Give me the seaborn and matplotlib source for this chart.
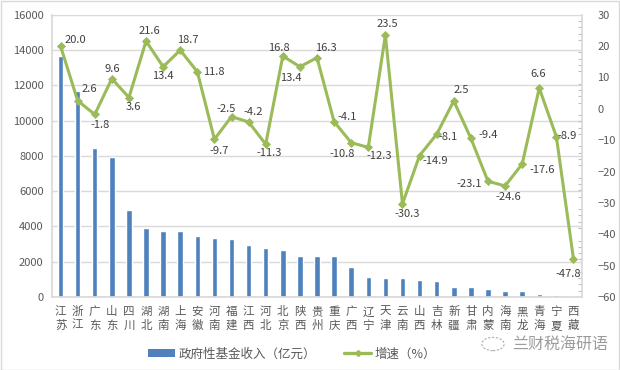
import matplotlib
matplotlib.use("Agg")
import matplotlib.pyplot as plt
import seaborn as sns
import numpy as np
import pandas as pd
from matplotlib.patches import Patch, Rectangle, Circle
from matplotlib.lines import Line2D
from matplotlib.ticker import MultipleLocator

provinces = ["江苏", "浙江", "广东", "山东", "四川", "湖北", "湖南", "上海", "安徽", "河南",
             "福建", "江西", "河北", "北京", "陕西", "贵州", "重庆", "广西", "辽宁", "天津",
             "云南", "山西", "吉林", "新疆", "甘肃", "内蒙", "海南", "黑龙", "青海", "宁夏", "西藏"]
revenue = [13650, 11690, 8470, 7950, 4940, 3920, 3750, 3750, 3470, 3350,
           3290, 2950, 2780, 2670, 2330, 2330, 2330, 1720, 1150, 1080,
           1080, 965, 910, 585, 585, 455, 340, 340, 190, 130, 30]
growth = [20.0, 2.6, -1.8, 9.6, 3.6, 21.6, 13.4, 18.7, 11.8, -9.7,
          -2.5, -4.2, -11.3, 16.8, 13.4, 16.3, -4.1, -10.8, -12.3, 23.5,
          -30.3, -14.9, -8.1, 2.5, -9.4, -23.1, -24.6, -17.6, 6.6, -8.9, -47.8]
bar_name = "政府性基金收入（亿元）"
line_name = "增速（%）"

# label placement (screen pixel offsets of label centre from the point)
label_dx = [15, 12, 5, 0, 4, 3, 0, 8, 17, 5, -5, 5, 3, -4, -9, 9, 13, -9, 11, 2,
            5, 16, 11, 8, 17, -19, 3, 20, -1, 11, -5]
label_dy = [-6, -12, 11, -10, 9, -10, 9, -10, 0, 12, -8, -10, 9, -8, 11, -10, -5, 11, 9, -11,
            10, 5, 3, -11, -3, 3, 11, 6, -14, -1, 15]

sns.set_theme(style="white")
plt.rcParams['font.family'] = ['Noto Sans CJK SC', 'DejaVu Sans']

W, H = 620, 370
fig = plt.figure(figsize=(W / 100, H / 100), dpi=100)
ax = fig.add_axes([52 / W, (H - 297) / H, 530 / W, (297 - 14.7) / H])

BLUE = "#4F81BD"
GREEN = "#9BBB59"
TXT = "#595959"
GRID = "#D9D9D9"

df = pd.DataFrame({"province": provinces, "revenue": revenue, "growth": growth})
sns.barplot(data=df, x="province", y="revenue", ax=ax, color=BLUE, width=0.32,
            saturation=1, zorder=2)
ax.set_ylim(0, 16000)
ax.yaxis.set_major_locator(MultipleLocator(2000))
ax.grid(axis="y", color=GRID, lw=1, zorder=0)
ax.set_axisbelow(True)
ax.set_xlabel("")
ax.set_ylabel("")

ax2 = ax.twinx()
sns.pointplot(data=df, x="province", y="growth", ax=ax2, color=GREEN,
              markers="D", markersize=3, linewidth=2.2, zorder=5)
ax2.set_ylim(-60, 30)
ax2.yaxis.set_major_locator(MultipleLocator(10))
ax2.yaxis.set_minor_locator(MultipleLocator(2))
ax2.set_ylabel("")
ax2.set_xlabel("")

for i, v in enumerate(growth):
    ax2.annotate(f"{v:.1f}", (i, v), xytext=(label_dx[i], -label_dy[i]),
                 textcoords="offset pixels", ha="center", va="center",
                 fontsize=8, color="#404040", zorder=6)

ax.set_xlim(-0.5, len(provinces) - 0.5)
ax2.set_xlim(-0.5, len(provinces) - 0.5)
ax.set_xticks(range(len(provinces)))
ax.set_xticklabels(["\n".join(p) for p in provinces], fontsize=8.3, color=TXT,
                   linespacing=1.05, va="top")
ax.tick_params(axis="x", length=0, pad=6)
ax.tick_params(axis="y", length=0, labelsize=8, colors=TXT, pad=6)
ax2.tick_params(axis="y", which="major", length=0, labelsize=8, colors=TXT, pad=11)
ax2.tick_params(axis="y", which="minor", direction="in", length=3, color="#BFBFBF", width=0.8)
for lab in ax2.get_yticklabels():
    lab.set_ha("left")

for a in (ax, ax2):
    for s in a.spines.values():
        s.set_visible(False)
ax.spines["left"].set_visible(True)
ax.spines["left"].set_color(GRID)
ax.spines["bottom"].set_visible(True)
ax.spines["bottom"].set_color(GRID)
ax2.spines["right"].set_visible(True)
ax2.spines["right"].set_color(GRID)

handles = [Patch(facecolor=BLUE, edgecolor="none"),
           Line2D([0], [0], color=GREEN, lw=2.4, marker="D", markersize=3)]
fig.legend(handles, [bar_name, line_name], loc="center", bbox_to_anchor=(292 / W, 1 - 354 / H),
           ncol=2, frameon=False, fontsize=9, labelcolor=TXT, handlelength=2.2,
           handleheight=0.6, columnspacing=2.2, handletextpad=0.3)

# watermark
fig.text(512 / W, 1 - 344 / H, "兰财税海研语", fontsize=11.5, color="#8A8A8A",
         ha="left", va="center", alpha=0.85)
fig.patches.append(Circle((493 / W, 1 - 344 / H), 0.018, transform=fig.transFigure,
                          fill=False, edgecolor="#AAAAAA", lw=0.8, ls=(0, (2, 1.5))))

fig.patches.append(Rectangle((0.5 / W, 0.5 / H), 1 - 1.5 / W, 1 - 1.5 / H, transform=fig.transFigure,
                             fill=False, edgecolor=GRID, lw=1))

fig.savefig("out.png", dpi=100)
